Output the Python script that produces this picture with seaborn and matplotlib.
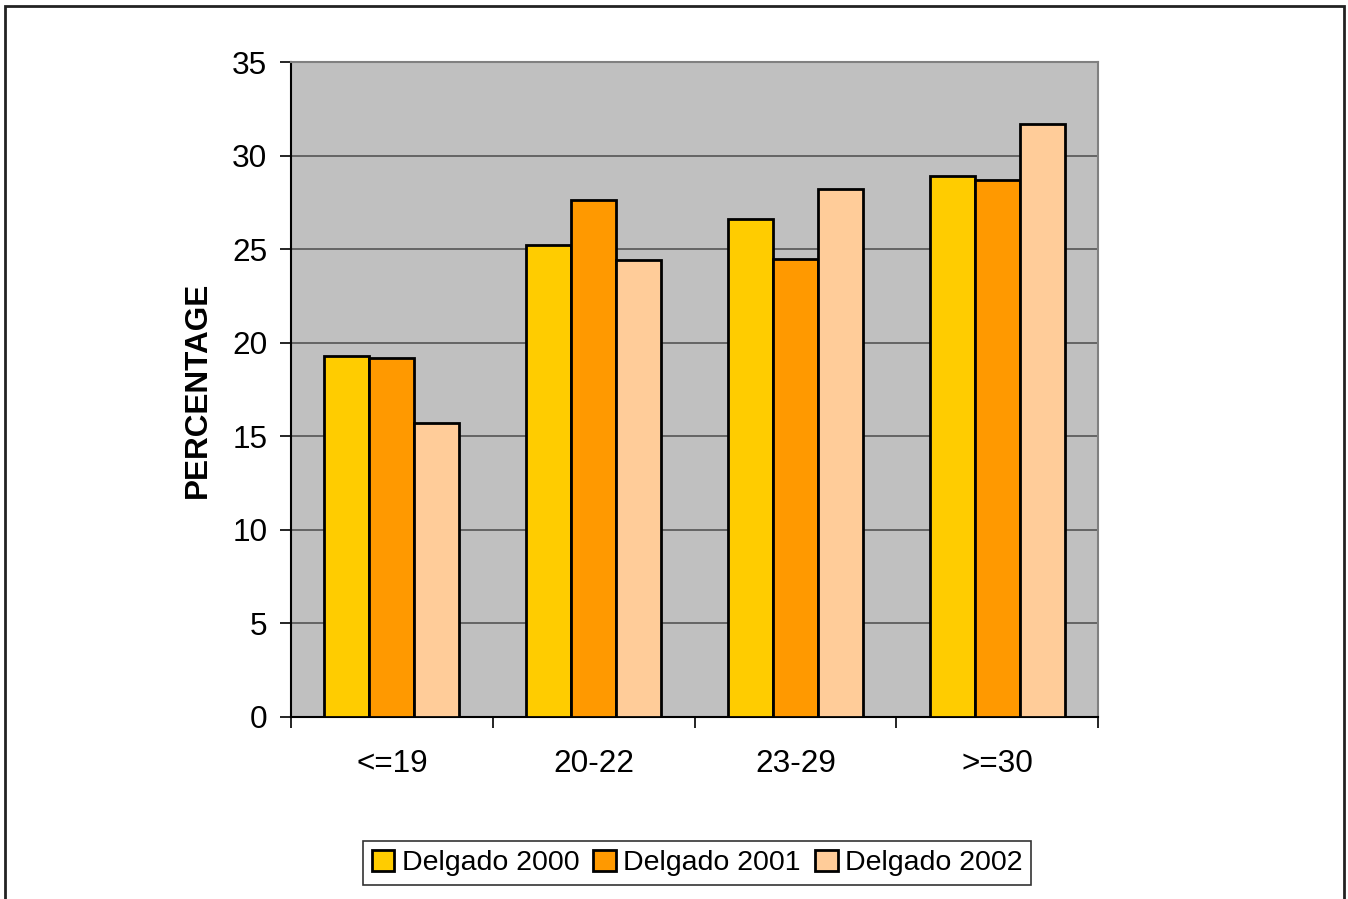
import matplotlib
matplotlib.use("Agg")
import matplotlib.pyplot as plt
from matplotlib.patches import Rectangle
import seaborn as sns
import pandas as pd

# Age groups and percentages per year
categories = ["<=19", "20-22", "23-29", ">=30"]
series_names = ["Delgado 2000", "Delgado 2001", "Delgado 2002"]
values_2000 = [19.3, 25.2, 26.6, 28.9]
values_2001 = [19.2, 27.6, 24.5, 28.7]
values_2002 = [15.7, 24.4, 28.2, 31.7]
yticks = [0, 5, 10, 15, 20, 25, 30, 35]

colors = ["#FFCC00", "#FF9900", "#FFCC99"]

df = pd.DataFrame({
    "group": categories * 3,
    "series": [series_names[0]] * 4 + [series_names[1]] * 4 + [series_names[2]] * 4,
    "value": values_2000 + values_2001 + values_2002,
})

sns.set_theme(style="white")
plt.rcParams["font.family"] = ["Liberation Sans", "DejaVu Sans"]
plt.rcParams["text.color"] = "black"
plt.rcParams["axes.labelcolor"] = "black"
plt.rcParams["xtick.color"] = "black"
plt.rcParams["ytick.color"] = "black"

fig = plt.figure(figsize=(13.48, 8.99), dpi=100)
ax = fig.add_axes([291 / 1348, 1 - 717 / 899, (1098 - 291) / 1348, (717 - 62) / 899])
ax.set_facecolor("#C0C0C0")

sns.barplot(data=df, x="group", y="value", hue="series", order=categories,
            hue_order=series_names, palette=colors, width=0.67, gap=0,
            edgecolor="black", linewidth=2.0, saturation=1, ax=ax, zorder=3)

ax.set_ylim(0, 35)
ax.set_xlim(-0.5, 3.5)
ax.set_yticks(yticks)
ax.set_yticklabels([str(t) for t in yticks])
ax.yaxis.grid(True, color="#555555", linewidth=1.2, zorder=0)
ax.set_axisbelow(True)

ax.set_xticks(range(len(categories)))
ax.set_xticklabels(categories)
ax.set_xticks([-0.5, 0.5, 1.5, 2.5, 3.5], minor=True)
ax.tick_params(axis="x", which="major", length=0, pad=23, labelsize=22.7, labelcolor="black")
ax.tick_params(axis="x", which="minor", length=8, width=1.2, color="black", direction="out", bottom=True)
ax.tick_params(axis="y", which="major", length=8, width=1.2, color="black", direction="out",
               left=True, pad=9, labelsize=22.7, labelcolor="black")

ax.set_xlabel("")
ax.set_ylabel("PERCENTAGE", fontsize=22.7, fontweight="bold", color="black")
ax.yaxis.set_label_coords(-0.097, 0.5)

for side in ["left", "bottom"]:
    ax.spines[side].set_color("black")
    ax.spines[side].set_linewidth(1.5)
for side in ["top", "right"]:
    ax.spines[side].set_color("#808080")
    ax.spines[side].set_linewidth(1.5)

handles, labels = ax.get_legend_handles_labels()
ax.legend_.remove()
leg = fig.legend(handles, labels, loc="center", bbox_to_anchor=(697 / 1348, 1 - 863 / 899),
                 ncol=3, fontsize=20.5, frameon=True, fancybox=False, edgecolor="black",
                 handlelength=0.8, handleheight=0.8, handletextpad=0.25, columnspacing=0.5,
                 borderpad=0.3, borderaxespad=0)
leg.get_frame().set_linewidth(1.2)

# Outer chart border
fig.patches.append(Rectangle((5 / 1348, -0.05), (1344 - 5) / 1348, 1 - 6 / 899 + 0.05,
                             transform=fig.transFigure, fill=False, edgecolor="#222222",
                             linewidth=2, clip_on=False))

fig.savefig("out.png", dpi=100)
